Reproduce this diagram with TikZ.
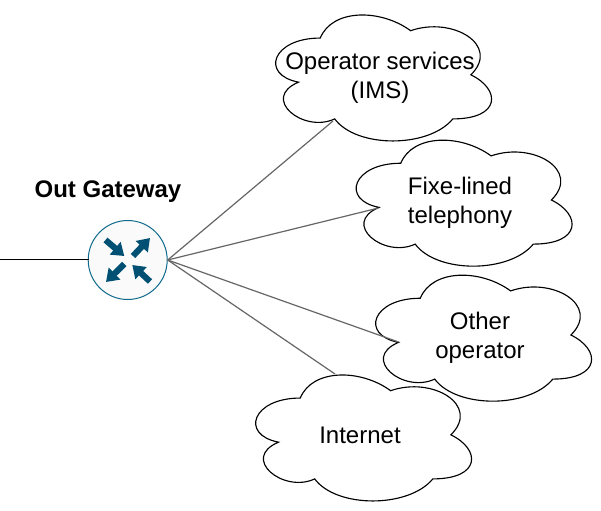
\documentclass[tikz,border=0pt]{standalone}
\usepackage{fontspec}
\setmainfont{Liberation Sans}
\usetikzlibrary{arrows.meta}
\definecolor{routerfill}{HTML}{FAFAFA}
\definecolor{routerline}{HTML}{0E6A8C}
\definecolor{routerarrow}{HTML}{005073}
\definecolor{linkgray}{HTML}{666666}
\tikzset{
  x=0.75pt,y=-0.75pt,
  cloudline/.style={draw=black,fill=white,line width=0.85pt},
  cloudtext/.style={font=\fontsize{18pt}{22pt}\selectfont,align=center,text=black,inner sep=0pt},
  routernode/.style={circle,draw=routerline,fill=routerfill,line width=0.75pt,minimum size=59.25pt,inner sep=0pt},
  routerarr/.style={draw=routerarrow,line width=4.6pt,-{Triangle[length=9pt,width=12pt,fill=routerarrow]}},
  linkline/.style={draw=linkgray,line width=0.9pt},
  feedline/.style={draw=black,line width=0.7pt},
  titletext/.style={font=\bfseries\fontsize{18pt}{18pt}\selectfont,text=black,inner sep=0pt}
}
% x0,y0,w,h in reference pixels (mxGraph cloud outline)
\newcommand{\cloudoutline}[4]{%
  \path[cloudline] ({#1+.25*#3},{#2+.25*#4})
   .. controls ({#1+.05*#3},{#2+.25*#4}) and ({#1},{#2+.5*#4}) .. ({#1+.16*#3},{#2+.55*#4})
   .. controls ({#1},{#2+.66*#4}) and ({#1+.18*#3},{#2+.9*#4}) .. ({#1+.31*#3},{#2+.8*#4})
   .. controls ({#1+.4*#3},{#2+#4}) and ({#1+.7*#3},{#2+#4}) .. ({#1+.8*#3},{#2+.8*#4})
   .. controls ({#1+#3},{#2+.8*#4}) and ({#1+#3},{#2+.6*#4}) .. ({#1+.875*#3},{#2+.5*#4})
   .. controls ({#1+#3},{#2+.3*#4}) and ({#1+.8*#3},{#2+.1*#4}) .. ({#1+.625*#3},{#2+.2*#4})
   .. controls ({#1+.5*#3},{#2+.05*#4}) and ({#1+.3*#3},{#2+.05*#4}) .. ({#1+.25*#3},{#2+.25*#4})
   -- cycle;}
\begin{document}
\begin{tikzpicture}
\useasboundingbox (0,0) rectangle (601,511);
\fill[white] (0,0) rectangle (601,511);
\cloudoutline{260}{1.3}{241}{147}
\cloudoutline{340.5}{126.5}{241}{147}
\cloudoutline{360}{261.5}{241}{147}
\cloudoutline{240}{361.3}{241}{147}
\node[cloudtext] (ims) at (380,77.5) {Operator services\\(IMS)};
\node[cloudtext] (fixed) at (460,203) {Fixe-lined\\telephony};
\node[cloudtext] (other) at (480,338) {Other\\operator};
\node[cloudtext] (inet) at (360,435) {Internet};
\node[titletext] (title) at (108,192) {Out Gateway};
\node[routernode] (router) at (127.7,260) {};
\coordinate (feed) at (0,259.5);
\coordinate (feedIn) at (88.5,259.5);
\coordinate (imsEnd) at (333,121);
\coordinate (fixedEnd) at (378.5,208);
\coordinate (otherEnd) at (398.5,342);
\coordinate (inetEnd) at (335,374);
\draw[feedline] (feed) -- (feedIn);
\draw[linkline] (router.east) -- (imsEnd);
\draw[linkline] (router.east) -- (fixedEnd);
\draw[linkline] (router.east) -- (otherEnd);
\draw[linkline] (router.east) -- (inetEnd);
\draw[routerarr] (105.5,240) -- (124.3,256);
\draw[routerarr] (133,256) -- (150,238);
\draw[routerarr] (124.3,264) -- (106,282);
\draw[routerarr] (150,281.5) -- (132.3,265);
\end{tikzpicture}
\end{document}
